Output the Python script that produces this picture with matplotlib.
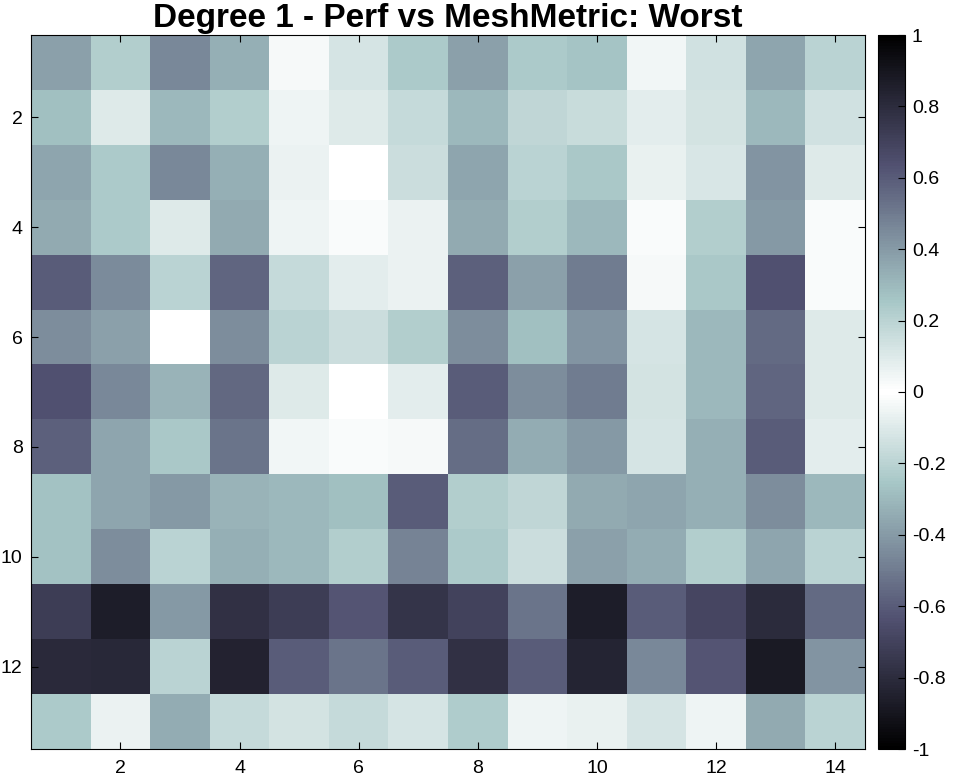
import numpy as np
import matplotlib
matplotlib.use('Agg')
from matplotlib import pyplot as plt
from matplotlib.colors import ListedColormap

plt.rcParams['font.family'] = ['Liberation Sans', 'DejaVu Sans']

# correlation values, rows 1..13, columns 1..14
row_labels = list(range(1, 14))
col_labels = list(range(1, 15))
r01 = [-0.38, -0.22, -0.46, -0.33, -0.03, -0.12, -0.24, -0.38, -0.24, -0.26, -0.04, -0.14, -0.36, -0.20]
r02 = [-0.28, -0.10, -0.30, -0.22, -0.05, -0.10, -0.17, -0.30, -0.18, -0.16, -0.08, -0.13, -0.30, -0.14]
r03 = [-0.36, -0.24, -0.46, -0.33, -0.06, 0.00, -0.15, -0.36, -0.20, -0.25, -0.07, -0.11, -0.42, -0.10]
r04 = [-0.35, -0.24, -0.10, -0.35, -0.05, -0.02, -0.06, -0.35, -0.22, -0.30, -0.02, -0.22, -0.40, -0.02]
r05 = [-0.60, -0.45, -0.20, -0.57, -0.17, -0.08, -0.06, -0.58, -0.38, -0.50, -0.03, -0.25, -0.64, -0.02]
r06 = [-0.44, -0.38, 0.00, -0.44, -0.20, -0.15, -0.22, -0.44, -0.28, -0.42, -0.12, -0.30, -0.55, -0.10]
r07 = [-0.64, -0.46, -0.32, -0.56, -0.10, 0.00, -0.08, -0.60, -0.44, -0.50, -0.13, -0.30, -0.57, -0.10]
r08 = [-0.58, -0.36, -0.25, -0.52, -0.04, -0.02, -0.03, -0.54, -0.34, -0.40, -0.12, -0.33, -0.60, -0.08]
r09 = [-0.27, -0.36, -0.40, -0.32, -0.30, -0.28, -0.60, -0.22, -0.18, -0.35, -0.36, -0.33, -0.44, -0.30]
r10 = [-0.27, -0.44, -0.20, -0.33, -0.30, -0.22, -0.47, -0.24, -0.15, -0.38, -0.34, -0.22, -0.36, -0.20]
r11 = [-0.72, -0.86, -0.40, -0.78, -0.72, -0.62, -0.76, -0.70, -0.52, -0.86, -0.60, -0.68, -0.80, -0.55]
r12 = [-0.81, -0.82, -0.20, -0.84, -0.60, -0.52, -0.60, -0.78, -0.60, -0.83, -0.46, -0.62, -0.88, -0.42]
r13 = [-0.24, -0.06, -0.34, -0.17, -0.13, -0.17, -0.12, -0.23, -0.05, -0.07, -0.12, -0.05, -0.35, -0.20]

data = np.array([r01, r02, r03, r04, r05, r06, r07, r08, r09, r10, r11, r12, r13])

# bone going black->white for -1..0, then white->black for 0..1
bone = plt.get_cmap('bone')(np.linspace(0, 1, 128))
cmap = ListedColormap(np.vstack([bone, bone[::-1]]))

fig = plt.figure(figsize=(9.55, 7.79), dpi=100)
ax = fig.add_axes([31 / 955, 30 / 779, 834 / 955, 714 / 779])
cax = fig.add_axes([878 / 955, 30 / 779, 27 / 955, 714 / 779])

im = ax.imshow(data, cmap=cmap, vmin=-1, vmax=1, aspect='auto',
               interpolation='nearest',
               extent=[0.5, len(col_labels) + 0.5, len(row_labels) + 0.5, 0.5])
ax.set_xticks(col_labels[1::2])
ax.set_yticks(row_labels[1::2])
ax.tick_params(direction='in', top=True, right=True, labelsize=14, length=5, width=0.8)
ax.tick_params(axis='x', pad=8)
ax.tick_params(axis='y', pad=6)
for s in ax.spines.values():
    s.set_linewidth(0.8)
ax.set_title('Degree 1 - Perf vs MeshMetric: Worst', fontsize=24, fontweight='bold', pad=6)

cb = fig.colorbar(im, cax=cax, ticks=np.round(np.arange(-1, 1.01, 0.2), 1))
cb.ax.set_yticklabels(['-1', '-0.8', '-0.6', '-0.4', '-0.2', '0', '0.2', '0.4', '0.6', '0.8', '1'])
cb.ax.tick_params(direction='in', labelsize=14, length=5, width=0.8, pad=5)
cb.outline.set_linewidth(0.8)

fig.savefig('out.png', dpi=100)
